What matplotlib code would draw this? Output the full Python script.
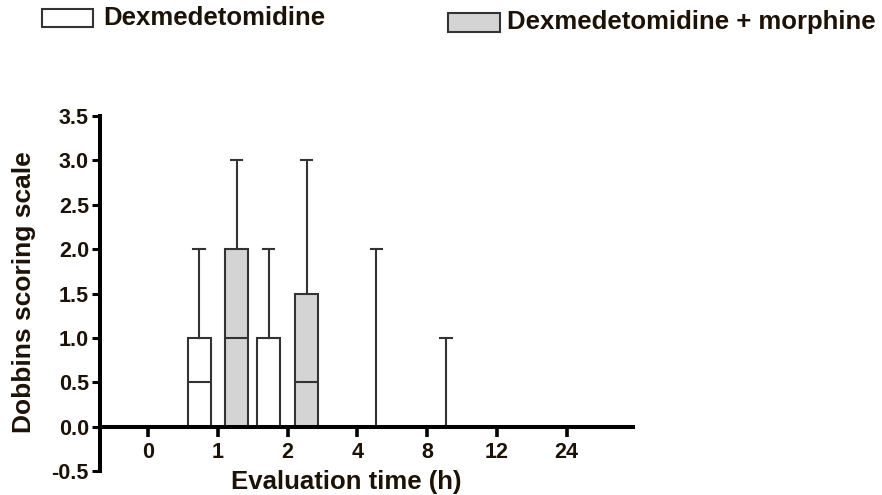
import matplotlib
matplotlib.use('Agg')
import matplotlib.pyplot as plt
from matplotlib.patches import Rectangle
import numpy as np

################################################################
# data (Dobbins score, box = Q1..Q3, whisker up to max)

times = ['0', '1', '2', '4', '8', '12', '24']

dex_min = [0, 0, 0, 0, 0, 0, 0]
dex_q1 = [0, 0, 0, 0, 0, 0, 0]
dex_med = [0, 0.5, 0, 0, 0, 0, 0]
dex_q3 = [0, 1, 1, 0, 0, 0, 0]
dex_max = [0, 2, 2, 0, 0, 0, 0]

morph_min = [0, 0, 0, 0, 0, 0, 0]
morph_q1 = [0, 0, 0, 0, 0, 0, 0]
morph_med = [0, 1, 0.5, 0, 0, 0, 0]
morph_q3 = [0, 2, 1.5, 0, 0, 0, 0]
morph_max = [0, 3, 3, 2, 1, 0, 0]

labels = ['Dexmedetomidine', 'Dexmedetomidine + morphine']
fills = ['white', '#d4d4d4']

yticks = [-0.5, 0.0, 0.5, 1.0, 1.5, 2.0, 2.5, 3.0, 3.5]

################################################################

plt.rcParams['font.family'] = ['Liberation Sans', 'DejaVu Sans']
plt.rcParams['font.weight'] = 'bold'
txt_col = '#1c1207'
edge_col = '#333333'

def make_stats(lo, q1, med, q3, hi):
    return [dict(whislo=a, q1=b, med=c, q3=d, whishi=e, fliers=[])
            for a, b, c, d, e in zip(lo, q1, med, q3, hi)]

fig = plt.figure(figsize=(8.82, 4.95), dpi=100)
ax = fig.add_axes([100/882, 24/495, 533/882, 355/495])

x = np.arange(len(times))
groups = [
    (make_stats(dex_min, dex_q1, dex_med, dex_q3, dex_max), -0.27, fills[0]),
    (make_stats(morph_min, morph_q1, morph_med, morph_q3, morph_max), 0.27, fills[1]),
]
for stats, off, fc in groups:
    ax.bxp(stats, positions=x + off, widths=0.33, capwidths=0.16,
           patch_artist=True, showfliers=False, manage_ticks=False,
           boxprops=dict(facecolor=fc, edgecolor=edge_col, linewidth=1.5),
           whiskerprops=dict(color=edge_col, linewidth=1.5),
           capprops=dict(color=edge_col, linewidth=1.5),
           medianprops=dict(color=edge_col, linewidth=1.5))

ax.set_xlim(-0.69, 6.95)
ax.set_ylim(-0.5, 3.5)
ax.set_xticks(x)
ax.set_xticklabels(times)
ax.set_yticks(yticks)
ax.set_yticklabels(['%.1f' % v for v in yticks])

ax.spines['top'].set_visible(False)
ax.spines['right'].set_visible(False)
ax.spines['bottom'].set_position(('data', 0))
for s in ['left', 'bottom']:
    ax.spines[s].set_linewidth(2.9)
    ax.spines[s].set_color('black')
    ax.spines[s].set_zorder(5)

ax.tick_params(axis='y', direction='out', length=6, width=2.2, pad=2,
               labelsize=15.5, labelcolor=txt_col)
ax.tick_params(axis='x', direction='out', length=7, width=2.6, pad=4,
               labelsize=15.5, labelcolor=txt_col)
for t in ax.get_xticklabels() + ax.get_yticklabels():
    t.set_fontweight('bold')

fig.text(346.5/882, 1 - 482/495, 'Evaluation time (h)', ha='center', va='center',
         fontsize=18.5, fontweight='bold', color=txt_col)
fig.text(24/882, 1 - 292/495, 'Dobbins scoring scale', ha='center', va='center',
         rotation=90, fontsize=19, fontweight='bold', color=txt_col)

# legend drawn by hand at the top
fig.add_artist(Rectangle((42/882, 1 - 27/495), 51/882, 18/495, transform=fig.transFigure,
                         facecolor=fills[0], edgecolor=edge_col, linewidth=1.5))
fig.text(103/882, 1 - 18/495, labels[0], ha='left', va='center',
         fontsize=18.5, fontweight='bold', color=txt_col)
fig.add_artist(Rectangle((448/882, 1 - 32/495), 52/882, 19/495, transform=fig.transFigure,
                         facecolor=fills[1], edgecolor=edge_col, linewidth=1.5))
fig.text(507/882, 1 - 22/495, labels[1], ha='left', va='center',
         fontsize=18.5, fontweight='bold', color=txt_col)

fig.savefig('out.png', dpi=100)
